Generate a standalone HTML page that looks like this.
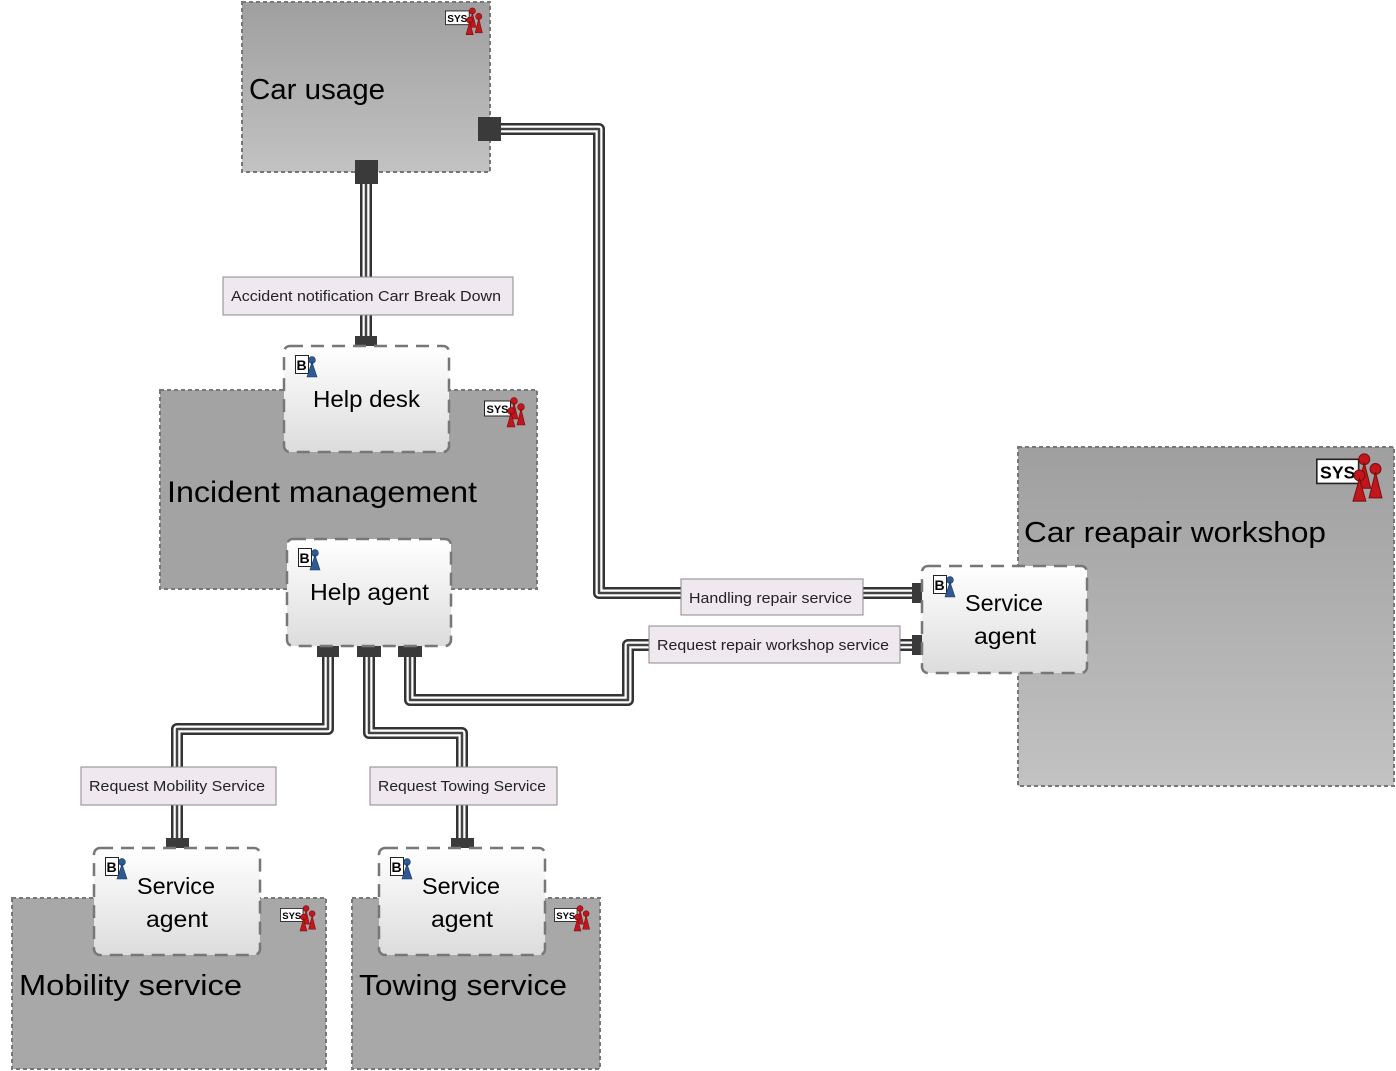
<!DOCTYPE html>
<html><head><meta charset="utf-8"><style>
html,body{margin:0;padding:0;background:#fff;}
svg{display:block;font-family:"Liberation Sans",sans-serif;}
</style></head><body>
<svg width="1396" height="1071" viewBox="0 0 1396 1071" xmlns="http://www.w3.org/2000/svg">
<defs>
<linearGradient id="sysg" x1="0" y1="0" x2="0" y2="1"><stop offset="0" stop-color="#9f9f9f"/><stop offset="1" stop-color="#c2c2c2"/></linearGradient>
<linearGradient id="bg" x1="0" y1="0" x2="0" y2="1"><stop offset="0" stop-color="#ffffff"/><stop offset="1" stop-color="#dcdcdc"/></linearGradient>
<symbol id="sys" viewBox="0 0 46 30" overflow="visible">
<rect x="0.5" y="4" width="26" height="15" fill="#fff" stroke="#222" stroke-width="1"/>
<text x="2.5" y="16" font-size="11" font-weight="bold" fill="#000">SYS</text>
<g fill="#c0161c" stroke="#7a0a0c" stroke-width="0.6">
<circle cx="30" cy="4" r="3.4"/><path d="M30 6 L26 22 L34 22 Z"/>
<circle cx="37" cy="10" r="3.4"/><path d="M37 12 L33 28 L41 28 Z"/>
<circle cx="27" cy="14" r="3.4"/><path d="M27 16 L23 30 L31 30 Z"/>
</g>
</symbol>
<symbol id="bi" viewBox="0 0 26 24" overflow="visible">
<rect x="0.5" y="0.5" width="13" height="18" fill="#fff" stroke="#222" stroke-width="1"/>
<text x="1.5" y="15" font-size="14" font-weight="bold" fill="#000">B</text>
<g fill="#2d5b94" stroke="#17355e" stroke-width="0.6"><circle cx="17" cy="5" r="3.4"/><path d="M17 7 L12 22 L22 22 Z"/></g>
</symbol>
</defs>

<rect x="242" y="2" width="248" height="170" fill="url(#sysg)" stroke="#777" stroke-width="2" stroke-dasharray="4,3"/>
<text x="249" y="99" font-size="29" fill="#000" textLength="136" lengthAdjust="spacingAndGlyphs">Car usage</text>
<use href="#sys" x="445" y="7" width="42" height="28"/>

<rect x="160" y="390" width="377" height="199" fill="#a3a3a3" stroke="#777" stroke-width="2" stroke-dasharray="4,3"/>
<text x="167" y="502" font-size="30" fill="#000" textLength="310" lengthAdjust="spacingAndGlyphs">Incident management</text>
<use href="#sys" x="484" y="397" width="46" height="30"/>

<rect x="1018" y="447" width="376" height="339" fill="url(#sysg)" stroke="#777" stroke-width="2" stroke-dasharray="4,3"/>
<text x="1024" y="542" font-size="29" fill="#000" textLength="302" lengthAdjust="spacingAndGlyphs">Car reapair workshop</text>
<use href="#sys" x="1316" y="452" width="74" height="50"/>

<rect x="12" y="898" width="314" height="171" fill="#a8a8a8" stroke="#777" stroke-width="2" stroke-dasharray="4,3"/>
<text x="19" y="995" font-size="29" fill="#000" textLength="223" lengthAdjust="spacingAndGlyphs">Mobility service</text>
<use href="#sys" x="280" y="905" width="40" height="26"/>

<rect x="352" y="898" width="248" height="171" fill="#a8a8a8" stroke="#777" stroke-width="2" stroke-dasharray="4,3"/>
<text x="359" y="995" font-size="29" fill="#000" textLength="208" lengthAdjust="spacingAndGlyphs">Towing service</text>
<use href="#sys" x="554" y="905" width="40" height="26"/>

<g fill="none" stroke-linejoin="round">
<g stroke="#333" stroke-width="12">
<path d="M366 172 V342"/>
<path d="M490 129 H599 V593 H918"/>
<path d="M328 652 V729 H177 V842"/>
<path d="M369 652 V733 H462 V842"/>
<path d="M410 652 V700 H628 V645 H918"/>
</g>
<g stroke="#fff" stroke-width="7">
<path d="M366 172 V342"/>
<path d="M490 129 H599 V593 H918"/>
<path d="M328 652 V729 H177 V842"/>
<path d="M369 652 V733 H462 V842"/>
<path d="M410 652 V700 H628 V645 H918"/>
</g>
<g stroke="#444" stroke-width="2.5">
<path d="M366 172 V342"/>
<path d="M490 129 H599 V593 H918"/>
<path d="M328 652 V729 H177 V842"/>
<path d="M369 652 V733 H462 V842"/>
<path d="M410 652 V700 H628 V645 H918"/>
</g>
</g>

<g fill="#3a3a3a">
<rect x="355" y="160" width="23" height="24"/>
<rect x="478" y="117" width="23" height="24"/>
<rect x="355" y="336" width="22" height="10"/>
<rect x="317" y="646" width="22" height="11"/>
<rect x="357" y="646" width="24" height="11"/>
<rect x="398" y="646" width="24" height="11"/>
<rect x="166" y="838" width="23" height="10"/>
<rect x="451" y="838" width="23" height="10"/>
<rect x="912" y="583" width="10" height="20"/>
<rect x="912" y="635" width="10" height="20"/>
</g>

<g font-size="15" fill="#222">
<rect x="223" y="277" width="290" height="38" fill="#efe9ef" stroke="#888"/>
<text x="231" y="301" textLength="270" lengthAdjust="spacingAndGlyphs">Accident notification Carr Break Down</text>
<rect x="681" y="579" width="182" height="36" fill="#efe9ef" stroke="#888"/>
<text x="689" y="603" textLength="163" lengthAdjust="spacingAndGlyphs">Handling repair service</text>
<rect x="649" y="626" width="251" height="37" fill="#efe9ef" stroke="#888"/>
<text x="657" y="650" textLength="232" lengthAdjust="spacingAndGlyphs">Request repair workshop service</text>
<rect x="81" y="767" width="195" height="38" fill="#efe9ef" stroke="#888"/>
<text x="89" y="791" textLength="176" lengthAdjust="spacingAndGlyphs">Request Mobility Service</text>
<rect x="370" y="767" width="187" height="38" fill="#efe9ef" stroke="#888"/>
<text x="378" y="791" textLength="168" lengthAdjust="spacingAndGlyphs">Request Towing Service</text>
</g>

<g stroke="#777" stroke-width="2.5" stroke-dasharray="13,8" fill="url(#bg)">
<rect x="284" y="346" width="165" height="106" rx="6"/>
<rect x="287" y="539" width="164" height="107" rx="6"/>
<rect x="922" y="566" width="165" height="107" rx="6"/>
<rect x="94" y="848" width="166" height="107" rx="6"/>
<rect x="379" y="848" width="166" height="107" rx="6"/>
</g>
<use href="#bi" x="295" y="355" width="26" height="24"/>
<use href="#bi" x="298" y="548" width="26" height="24"/>
<use href="#bi" x="933" y="575" width="26" height="24"/>
<use href="#bi" x="105" y="857" width="26" height="24"/>
<use href="#bi" x="390" y="857" width="26" height="24"/>
<g font-size="23" fill="#000">
<text x="313" y="407" textLength="107" lengthAdjust="spacingAndGlyphs">Help desk</text>
<text x="310" y="600" textLength="119" lengthAdjust="spacingAndGlyphs">Help agent</text>
<text x="965" y="611" textLength="78" lengthAdjust="spacingAndGlyphs">Service</text>
<text x="974" y="644" textLength="62" lengthAdjust="spacingAndGlyphs">agent</text>
<text x="137" y="894" textLength="78" lengthAdjust="spacingAndGlyphs">Service</text>
<text x="146" y="927" textLength="62" lengthAdjust="spacingAndGlyphs">agent</text>
<text x="422" y="894" textLength="78" lengthAdjust="spacingAndGlyphs">Service</text>
<text x="431" y="927" textLength="62" lengthAdjust="spacingAndGlyphs">agent</text>
</g>
</svg>
</body></html>
